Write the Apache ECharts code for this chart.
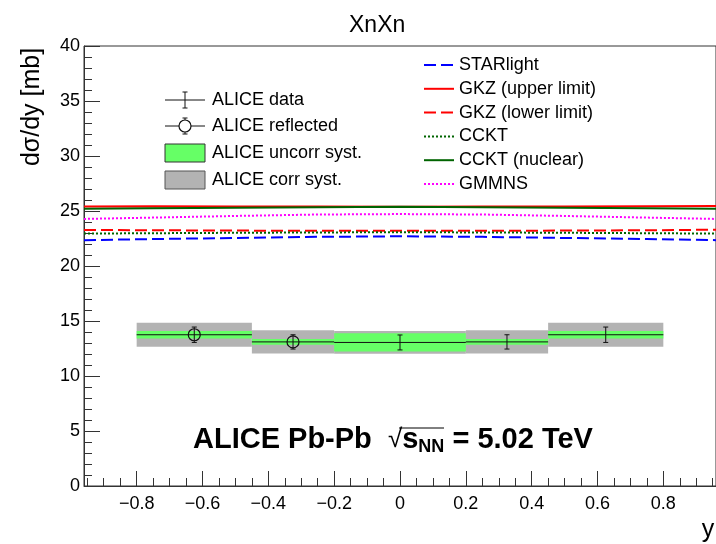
<!DOCTYPE html>
<html>
<head>
<meta charset="utf-8">
<title>XnXn</title>
<style>html,body{margin:0;padding:0;background:#fff;} #main{width:716px;height:544px;}</style>
</head>
<body>
<div id="main"></div>
<script src="https://cdn.jsdelivr.net/npm/echarts@6/dist/echarts.min.js"></script>
<script>
var FONT = '"Liberation Sans", Arial, sans-serif';

// ALICE measurement, bins in rapidity
var binLow = [-0.8, -0.45, -0.2, 0.2, 0.45];
var binHigh = [-0.45, -0.2, 0.2, 0.45, 0.8];
var binCenter = [-0.625, -0.325, 0, 0.325, 0.625];
var aliceVal = [13.75, 13.1, 13.05, 13.1, 13.75];
var aliceStat = [0.7, 0.65, 0.68, 0.65, 0.7];
var aliceUncorr = [0.33, 0.26, 0.83, 0.26, 0.33];
var aliceCorr = [1.1, 1.06, 1.03, 1.06, 1.1];
var reflected = [true, true, false, false, false];

// model predictions
var modelRap = [-0.96, -0.75, -0.5, -0.25, 0, 0.25, 0.5, 0.75, 0.96];
var starlight = [22.35, 22.45, 22.55, 22.65, 22.7, 22.65, 22.55, 22.45, 22.35];
var gkzUpper = [25.42, 25.43, 25.42, 25.4, 25.38, 25.4, 25.42, 25.43, 25.45];
var gkzLower = [23.28, 23.25, 23.22, 23.2, 23.2, 23.2, 23.22, 23.25, 23.3];
var cckt = [22.95, 22.98, 23.02, 23.05, 23.07, 23.05, 23.02, 22.98, 22.95];
var ccktNuclear = [25.2, 25.25, 25.3, 25.35, 25.38, 25.35, 25.3, 25.25, 25.2];
var gmmns = [24.28, 24.4, 24.55, 24.68, 24.72, 24.68, 24.55, 24.4, 24.28];

// axis ticks
var xTicks = [-0.8, -0.6, -0.4, -0.2, 0, 0.2, 0.4, 0.6, 0.8];
var xMinorTicks = [-0.95, -0.9, -0.85, -0.75, -0.7, -0.65, -0.55, -0.5, -0.45, -0.35, -0.3, -0.25,
  -0.15, -0.1, -0.05, 0.05, 0.1, 0.15, 0.25, 0.3, 0.35, 0.45, 0.5, 0.55, 0.65, 0.7, 0.75, 0.85, 0.9, 0.95];

var chart = echarts.init(document.getElementById('main'));

function pairs(ys) {
  return modelRap.map(function (x, i) { return [x, ys[i]]; });
}

function modelLine(name, ys, color, type) {
  return {
    type: 'line', name: name, data: pairs(ys), symbol: 'none',
    lineStyle: { color: color, width: 2, type: type },
    itemStyle: { color: color }, z: 3, silent: true
  };
}

function boxSeries(name, err, color) {
  return {
    type: 'custom', name: name, z: 2, silent: true,
    data: binLow.map(function (l, i) { return [l, binHigh[i], aliceVal[i], err[i]]; }),
    encode: { x: [0, 1], y: 2 },
    renderItem: function (params, api) {
      var a = api.coord([api.value(0), api.value(2) + api.value(3)]);
      var b = api.coord([api.value(1), api.value(2) - api.value(3)]);
      return { type: 'rect', shape: { x: a[0], y: a[1], width: b[0] - a[0], height: b[1] - a[1] },
        style: { fill: color } };
    }
  };
}

var dataSeries = {
  type: 'custom', name: 'ALICE data', z: 5, silent: true,
  data: binCenter.map(function (c, i) { return [c, aliceVal[i], aliceStat[i], binLow[i], binHigh[i], reflected[i] ? 1 : 0]; }),
  encode: { x: 0, y: 1 },
  renderItem: function (params, api) {
    var c = api.coord([api.value(0), api.value(1)]);
    var l = api.coord([api.value(3), api.value(1)]);
    var r = api.coord([api.value(4), api.value(1)]);
    var top = api.coord([api.value(0), api.value(1) + api.value(2)]);
    var bot = api.coord([api.value(0), api.value(1) - api.value(2)]);
    var st = { stroke: '#111', lineWidth: 1 };
    var kids = [
      { type: 'line', shape: { x1: l[0], y1: c[1], x2: r[0], y2: c[1] }, style: st },
      { type: 'line', shape: { x1: c[0], y1: top[1], x2: c[0], y2: bot[1] }, style: st },
      { type: 'line', shape: { x1: c[0] - 2.5, y1: top[1], x2: c[0] + 2.5, y2: top[1] }, style: st },
      { type: 'line', shape: { x1: c[0] - 2.5, y1: bot[1], x2: c[0] + 2.5, y2: bot[1] }, style: st }
    ];
    if (api.value(5)) {
      kids.push({ type: 'circle', shape: { cx: c[0], cy: c[1], r: 6 }, style: { fill: 'none', stroke: '#111', lineWidth: 1.2 } });
    }
    return { type: 'group', children: kids };
  }
};

var tickFmt = function (v) {
  if (Math.abs(v) < 1e-9) return '0';
  return (v < 0 ? '\u2212' : '') + Math.abs(v).toFixed(1);
};

// left legend drawn by hand (error-bar symbols)
var LX = 165, LW = 40, LT = 212;
var legendRows = [100, 126, 153, 180];
var blk = { stroke: '#111', lineWidth: 1 };
var leftLegend = [
  { type: 'line', shape: { x1: LX, y1: legendRows[0], x2: LX + LW, y2: legendRows[0] }, style: blk },
  { type: 'line', shape: { x1: LX + 20, y1: legendRows[0] - 8, x2: LX + 20, y2: legendRows[0] + 8 }, style: blk },
  { type: 'line', shape: { x1: LX + 17.5, y1: legendRows[0] - 8, x2: LX + 22.5, y2: legendRows[0] - 8 }, style: blk },
  { type: 'line', shape: { x1: LX + 17.5, y1: legendRows[0] + 8, x2: LX + 22.5, y2: legendRows[0] + 8 }, style: blk },
  { type: 'line', shape: { x1: LX, y1: legendRows[1], x2: LX + 14, y2: legendRows[1] }, style: blk },
  { type: 'line', shape: { x1: LX + 26, y1: legendRows[1], x2: LX + LW, y2: legendRows[1] }, style: blk },
  { type: 'line', shape: { x1: LX + 20, y1: legendRows[1] - 8, x2: LX + 20, y2: legendRows[1] + 8 }, style: blk },
  { type: 'line', shape: { x1: LX + 17.5, y1: legendRows[1] - 8, x2: LX + 22.5, y2: legendRows[1] - 8 }, style: blk },
  { type: 'line', shape: { x1: LX + 17.5, y1: legendRows[1] + 8, x2: LX + 22.5, y2: legendRows[1] + 8 }, style: blk },
  { type: 'circle', shape: { cx: LX + 20, cy: legendRows[1], r: 6 }, style: { fill: '#fff', stroke: '#111', lineWidth: 1.2 } },
  { type: 'rect', shape: { x: LX, y: legendRows[2] - 9, width: LW, height: 18 }, style: { fill: '#66ff66', stroke: '#333', lineWidth: 1 } },
  { type: 'rect', shape: { x: LX, y: legendRows[3] - 9, width: LW, height: 18 }, style: { fill: '#b3b3b3', stroke: '#555', lineWidth: 1 } }
];
['ALICE data', 'ALICE reflected', 'ALICE uncorr syst.', 'ALICE corr syst.'].forEach(function (t, i) {
  leftLegend.push({ type: 'text', x: LT, y: legendRows[i], style: { text: t, font: '18px ' + FONT, fill: '#000', verticalAlign: 'middle' } });
});

chart.setOption({
  animation: false,
  title: { text: 'XnXn', left: 344, top: 9, textStyle: { fontFamily: FONT, fontSize: 23, fontWeight: 'normal', color: '#000' } },
  grid: { left: 84, top: 46, width: 633, height: 440, show: true, borderColor: '#333', borderWidth: 1 },
  legend: {
    orient: 'vertical', left: 418, top: 51, itemWidth: 30, itemHeight: 18, itemGap: 5.8,
    selectedMode: false,
    itemStyle: { opacity: 0 },
    textStyle: { fontFamily: FONT, fontSize: 18, color: '#000', lineHeight: 18 },
    data: ['STARlight', 'GKZ (upper limit)', 'GKZ (lower limit)', 'CCKT', 'CCKT (nuclear)', 'GMMNS']
  },
  xAxis: [{
    type: 'value', min: -0.96, max: 0.96,
    axisLine: { show: true, onZero: false, lineStyle: { color: '#333' } },
    axisTick: { inside: true, length: 15, customValues: xTicks, lineStyle: { color: '#333' } },
    axisLabel: { customValues: xTicks, formatter: tickFmt, margin: 9, fontFamily: FONT, fontSize: 18, color: '#000' },
    splitLine: { show: false }
  }, {
    type: 'value', min: -0.96, max: 0.96, position: 'bottom',
    axisLine: { show: false },
    axisTick: { inside: true, length: 8, customValues: xMinorTicks, lineStyle: { color: '#333' } },
    axisLabel: { show: false },
    splitLine: { show: false }
  }],
  yAxis: {
    type: 'value', min: 0, max: 40, interval: 5,
    axisLine: { show: true, onZero: false, lineStyle: { color: '#333' } },
    axisTick: { show: true, inside: true, length: 16, lineStyle: { color: '#333' } },
    minorTick: { show: true, splitNumber: 5, length: 8, lineStyle: { color: '#333' } },
    axisLabel: { margin: 4, fontFamily: FONT, fontSize: 18, color: '#000' },
    splitLine: { show: false }
  },
  graphic: [
    { type: 'text', x: 32, y: 107, rotation: Math.PI / 2,
      style: { text: 'd\u03c3/dy [mb]', font: '25px ' + FONT, fill: '#000', align: 'center', verticalAlign: 'middle' } },
    { type: 'text', x: 708, y: 530,
      style: { text: 'y', font: '25px ' + FONT, fill: '#000', align: 'center', verticalAlign: 'middle' } },
    { type: 'text', x: 193, y: 440,
      style: {
        text: '{b|ALICE Pb-Pb  }{r|\u221a}{b|s}{n|NN}{b| = 5.02 TeV}',
        font: 'bold 29px ' + FONT, fill: '#000', verticalAlign: 'middle',
        rich: {
          b: { fontFamily: FONT, fontSize: 29, fontWeight: 'bold', lineHeight: 32 },
          r: { fontFamily: FONT, fontSize: 26, fontWeight: 'normal', lineHeight: 32 },
          n: { fontFamily: FONT, fontSize: 18, fontWeight: 'bold', lineHeight: 18, verticalAlign: 'bottom' }
        }
      } },
    { type: 'line', shape: { x1: 399, y1: 428, x2: 444, y2: 428 }, style: { stroke: '#000', lineWidth: 1 } },
    { type: 'group', children: leftLegend }
  ],
  series: [
    boxSeries('ALICE corr syst.', aliceCorr, '#b3b3b3'),
    boxSeries('ALICE uncorr syst.', aliceUncorr, '#66ff66'),
    dataSeries,
    modelLine('STARlight', starlight, '#0000ff', [12, 5]),
    modelLine('GKZ (upper limit)', gkzUpper, '#ff0000', 'solid'),
    modelLine('GKZ (lower limit)', gkzLower, '#ff0000', [12, 5]),
    modelLine('CCKT', cckt, '#006400', [2, 2]),
    modelLine('CCKT (nuclear)', ccktNuclear, '#006400', 'solid'),
    modelLine('GMMNS', gmmns, '#ff00ff', [2, 2])
  ]
});
</script>
</body>
</html>
